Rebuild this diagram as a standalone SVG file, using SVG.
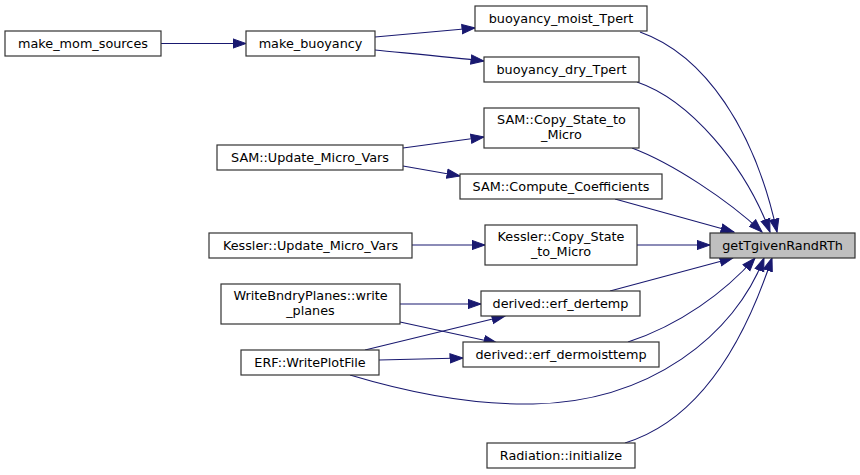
<svg xmlns="http://www.w3.org/2000/svg" width="860" height="475" viewBox="0 0 860 475">
<style>
.n rect{fill:#ffffff;stroke:#333333;stroke-width:1.2}
.n.hl rect{fill:#bfbfbf}
.n text{font-family:"DejaVu Sans","Liberation Sans",sans-serif;font-size:12.8px;fill:#000000;text-anchor:middle}
.e path{fill:none;stroke:#191970;stroke-width:1.1;marker-end:url(#ah)}
</style>
<defs>
<marker id="ah" markerUnits="userSpaceOnUse" markerWidth="15" markerHeight="12" viewBox="0 -6 14 12" refX="13" refY="0" orient="auto">
<path d="M0,-4.6 L13,0 L0,4.6 Z" fill="#191970" stroke="#191970" stroke-width="1"/>
</marker>
</defs>
<rect x="0" y="0" width="860" height="475" fill="#ffffff"/>
<g id="edges" class="e">
<path d="M161,43.5 L246,43.5"/>
<path d="M375,37 C405,34 440,31 475,28"/>
<path d="M375,50 C405,53 450,57 484,61"/>
<path d="M640,32 C705,55 755,130 777,232"/>
<path d="M637,82 C690,100 745,165 770,232"/>
<path d="M632,148 C672,163 728,200 762,232"/>
<path d="M403,148 L484,137"/>
<path d="M403,166 L460,176"/>
<path d="M615,199 L734,232"/>
<path d="M412,245 L485,245"/>
<path d="M637,245 L710,245"/>
<path d="M610,291 L733,258"/>
<path d="M400,304 L481,304"/>
<path d="M400,322 L497,343"/>
<path d="M365,350 L505,316"/>
<path d="M379,360 L463,358"/>
<path d="M350,375 C420,396 480,405 533,404 C650,402 735,335 764,258"/>
<path d="M628,342 C680,325 725,292 755,258"/>
<path d="M625,443 C700,420 745,340 772,258"/>
</g>
<g id="make_mom_sources" class="n"><rect x="5" y="31" width="156" height="25"/><text x="83" y="48">make_mom_sources</text></g>
<g id="make_buoyancy" class="n"><rect x="246" y="31" width="129" height="25"/><text x="310.5" y="48">make_buoyancy</text></g>
<g id="buoyancy_moist_Tpert" class="n"><rect x="475" y="6" width="172" height="25"/><text x="561" y="23">buoyancy_moist_Tpert</text></g>
<g id="buoyancy_dry_Tpert" class="n"><rect x="484" y="57" width="155" height="25"/><text x="561.5" y="74">buoyancy_dry_Tpert</text></g>
<g id="SAM_Copy_State_to_Micro" class="n"><rect x="484" y="108" width="155" height="40"/><text x="561.5" y="124">SAM::Copy_State_to</text><text x="561.5" y="139">_Micro</text></g>
<g id="SAM_Update_Micro_Vars" class="n"><rect x="217" y="145" width="186" height="25"/><text x="310" y="162">SAM::Update_Micro_Vars</text></g>
<g id="SAM_Compute_Coefficients" class="n"><rect x="460" y="174" width="202" height="25"/><text x="561" y="191">SAM::Compute_Coefficients</text></g>
<g id="Kessler_Update_Micro_Vars" class="n"><rect x="209" y="233" width="203" height="25"/><text x="310.5" y="250">Kessler::Update_Micro_Vars</text></g>
<g id="Kessler_Copy_State_to_Micro" class="n"><rect x="485" y="225" width="152" height="40"/><text x="561" y="241">Kessler::Copy_State</text><text x="561" y="256">_to_Micro</text></g>
<g id="getTgivenRandRTh" class="n hl"><rect x="710" y="233" width="145" height="25"/><text x="782.5" y="250">getTgivenRandRTh</text></g>
<g id="WriteBndryPlanes_write_planes" class="n"><rect x="221" y="284" width="179" height="40"/><text x="310.5" y="300">WriteBndryPlanes::write</text><text x="310.5" y="315">_planes</text></g>
<g id="derived_erf_dertemp" class="n"><rect x="481" y="291" width="159" height="25"/><text x="560.5" y="308">derived::erf_dertemp</text></g>
<g id="ERF_WritePlotFile" class="n"><rect x="241" y="350" width="138" height="25"/><text x="310" y="367">ERF::WritePlotFile</text></g>
<g id="derived_erf_dermoisttemp" class="n"><rect x="463" y="342" width="196" height="25"/><text x="561" y="359">derived::erf_dermoisttemp</text></g>
<g id="Radiation_initialize" class="n"><rect x="487" y="443" width="148" height="25"/><text x="561" y="460">Radiation::initialize</text></g>
</svg>
